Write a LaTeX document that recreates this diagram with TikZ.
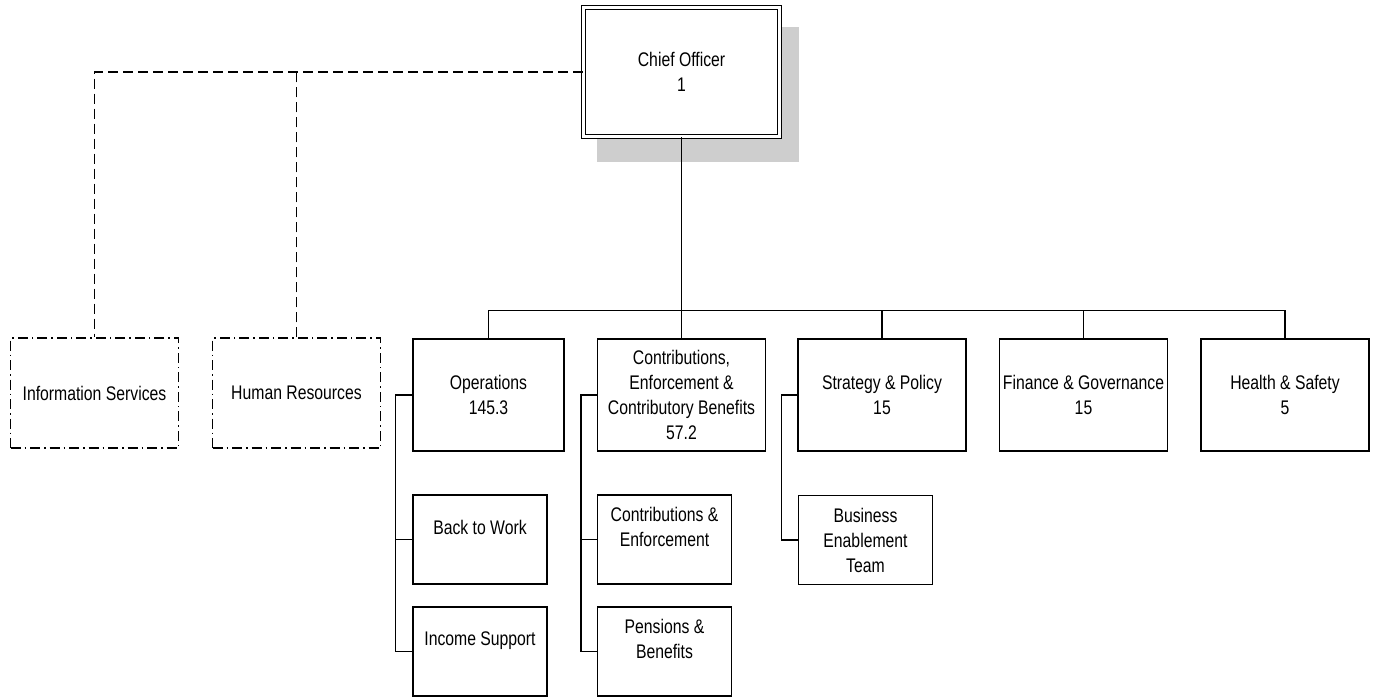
\documentclass[tikz,border=0pt]{standalone}
\usepackage{fontspec}
\setmainfont{Liberation Sans}[FakeStretch=0.8]
\definecolor{shadowgray}{RGB}{206,206,206}

\begin{document}
\begin{tikzpicture}[x = 1pt, y = -1pt, line width = 1.4pt,
        box/.style = {draw, rectangle, minimum width = 168pt, minimum height = 112pt,
            align = center, inner sep = 2pt, font = \fontsize{19.7}{25}\selectfont},
        subbox/.style = {box, minimum width = 134pt, minimum height = 89pt},
        otherbox/.style = {box, minimum height = 110pt, line width = 1.1pt,
            dash pattern = on 10pt off 4pt on 1.5pt off 4pt},
        dotlink/.style = {line width = 1.1pt, dash pattern = on 10pt off 5pt}]
    \useasboundingbox (0, 0) rectangle (1378, 697);
    % top box with its shadow
    \fill [shadowgray] (597, 27) rectangle (799, 162);
    \node [box, double, double distance = 2.4pt, minimum width = 196pt, minimum height = 129pt,
        fill = white] (chief) at (681.5, 72) {Chief Officer\\1};
    % first row
    \node [box, minimum width = 151pt] (ops) at (488.5, 395) {Operations\\145.3};
    \node [box] (ceb) at (681.5, 395) {Contributions,\\Enforcement \&\\Contributory Benefits\\57.2};
    \node [box] (sp) at (882, 395) {Strategy \& Policy\\15};
    \node [box] (fg) at (1083.5, 395) {Finance \& Governance\\15};
    \node [box] (hs) at (1285, 395) {Health \& Safety\\5};
    % second and third rows
    \node [subbox] (btw) at (480, 539.5) {Back to Work\\~};
    \node [subbox] (inc) at (480, 651.5) {Income Support\\~};
    \node [subbox] (ce) at (664.5, 539.5) {Contributions \&\\Enforcement\\~};
    \node [subbox] (pb) at (664.5, 651.5) {Pensions \&\\Benefits\\~};
    \node [subbox] (bet) at (865.5, 540) {Business\\Enablement\\Team};
    % dotted boxes on the left
    \node [otherbox] (is) at (94.5, 393) {Information Services};
    \node [otherbox] (hr) at (296.5, 393) {Human Resources};

    \draw (chief) -- (ceb);
    \draw (ops.north) -- ++(0, -28) coordinate (bus) -| (hs.north);
    \foreach \n in {sp, fg}
        \draw (\n.north) -- (\n.north |- bus);

    \draw (ops.west) -- ++(-17, 0) coordinate (opsside) |- (inc.west);
    \draw (opsside |- btw.west) -- (btw.west);
    \draw (ceb.west) -- ++(-16, 0) coordinate (cebside) |- (pb.west);
    \draw (cebside |- ce.west) -- (ce.west);
    \draw (sp.west) -- ++(-16, 0) |- (bet.west);

    \draw [dotlink] (chief.west) -| (is.north);
    \draw [dotlink] (hr.north) -- (hr.north |- chief.west);
\end{tikzpicture}
\end{document}
